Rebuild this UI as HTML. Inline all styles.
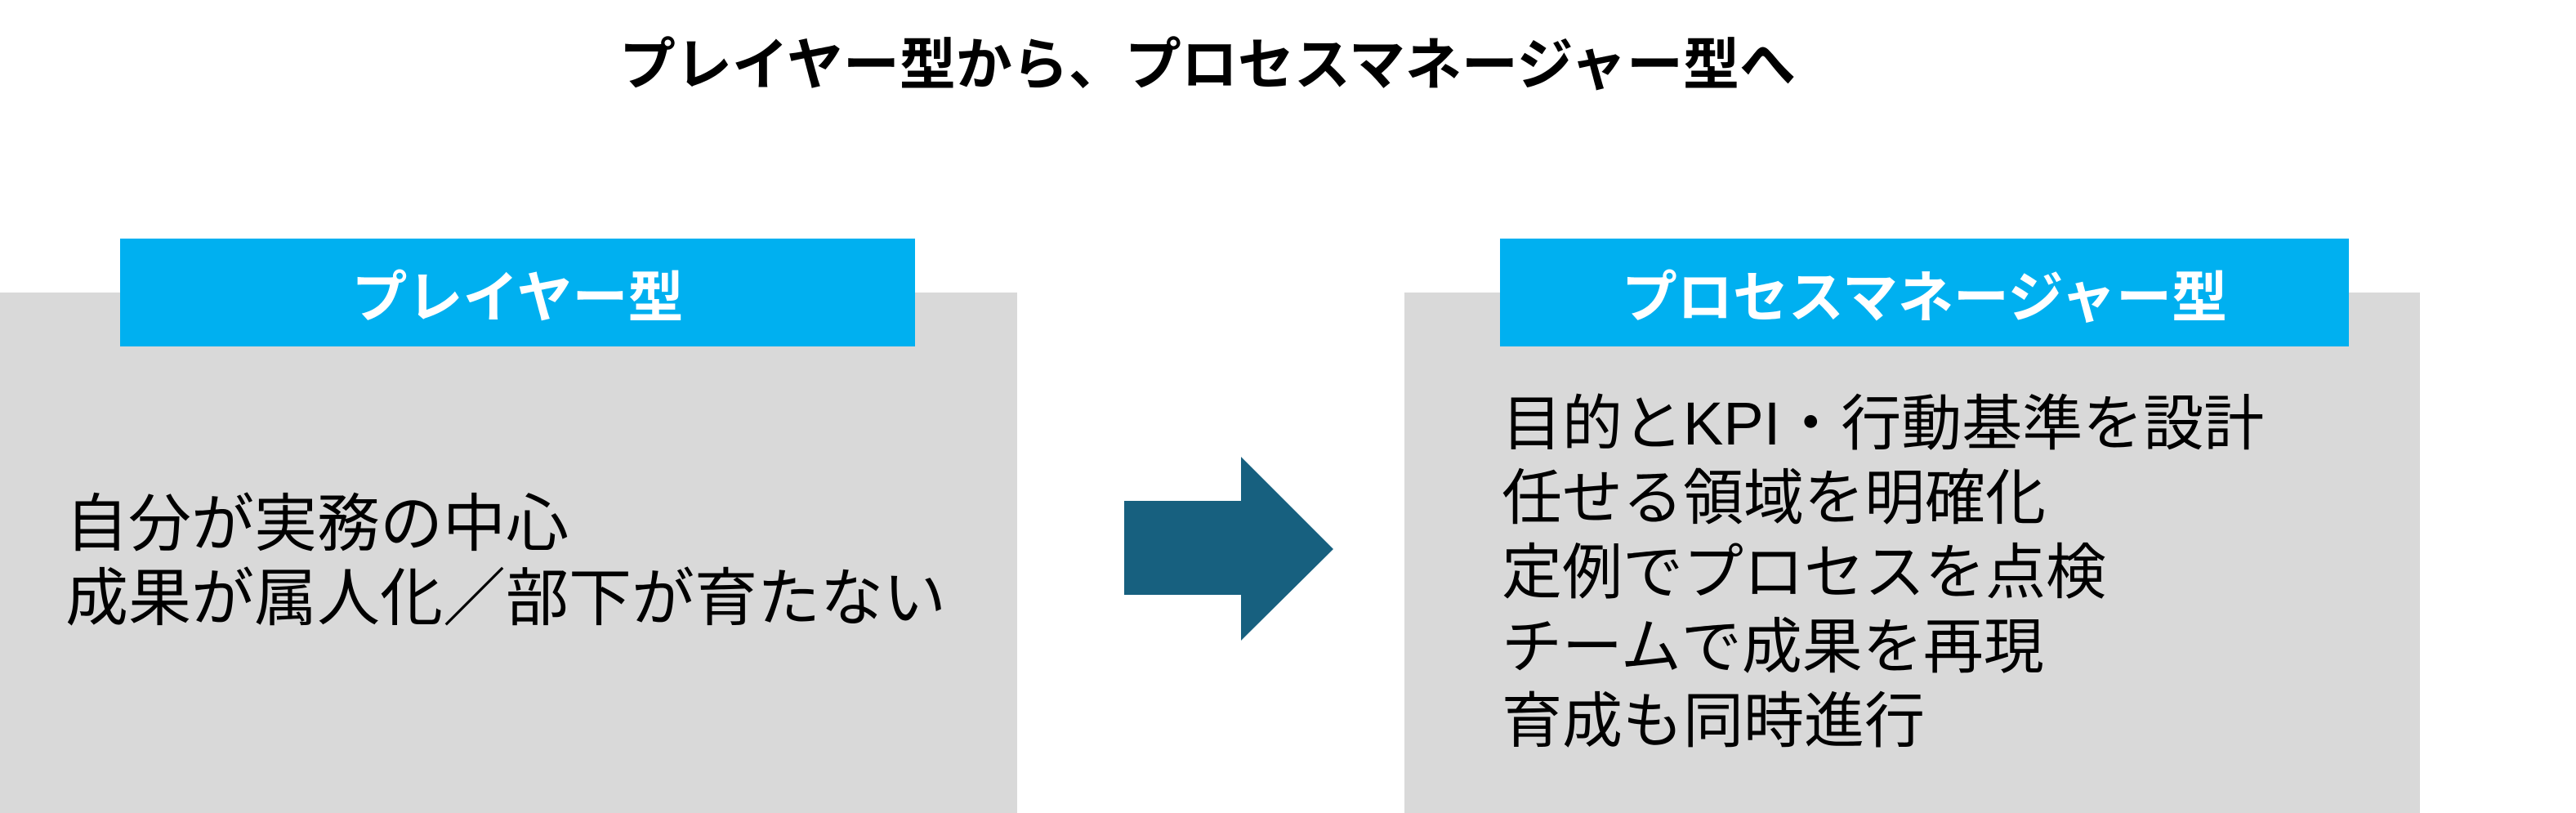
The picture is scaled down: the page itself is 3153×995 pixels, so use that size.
<!DOCTYPE html>
<html><head><meta charset="utf-8"><style>
html,body{margin:0;padding:0;}
body{width:3153px;height:995px;position:relative;background:#fff;overflow:hidden;font-family:"Liberation Sans","Noto Sans CJK JP",sans-serif;}
.abs{position:absolute;}
.gray{background:#d9d9d9;}
.lab{background:#00b0f0;color:#fff;font-weight:bold;font-size:68px;display:flex;align-items:center;justify-content:center;}
.t{font-size:74px;line-height:91px;color:#000;white-space:nowrap;}
</style></head><body>
<div class="abs" style="left:0;top:40px;width:2956px;text-align:center;font-size:69px;font-weight:bold;line-height:80px;">プレイヤー型から、プロセスマネージャー型へ</div>
<div class="abs gray" style="left:0;top:358px;width:1245px;height:637px;"></div>
<div class="abs lab" style="left:147px;top:292px;width:973px;height:132px;">プレイヤー型</div>
<div class="abs t" style="left:80px;top:597px;font-size:77px;">自分が実務の中心<br>成果が属人化／部下が育たない</div>
<svg class="abs" style="left:0;top:0" width="3153" height="995"><polygon points="1376,613 1519,613 1519,559 1632,672 1519,784 1519,728 1376,728" fill="#17607f"/></svg>
<div class="abs gray" style="left:1719px;top:358px;width:1243px;height:637px;"></div>
<div class="abs lab" style="left:1836px;top:292px;width:1039px;height:132px;">プロセスマネージャー型</div>
<div class="abs t" style="left:1838px;top:473px;">目的とKPI・行動基準を設計<br>任せる領域を明確化<br>定例でプロセスを点検<br>チームで成果を再現<br>育成も同時進行</div>
</body></html>
